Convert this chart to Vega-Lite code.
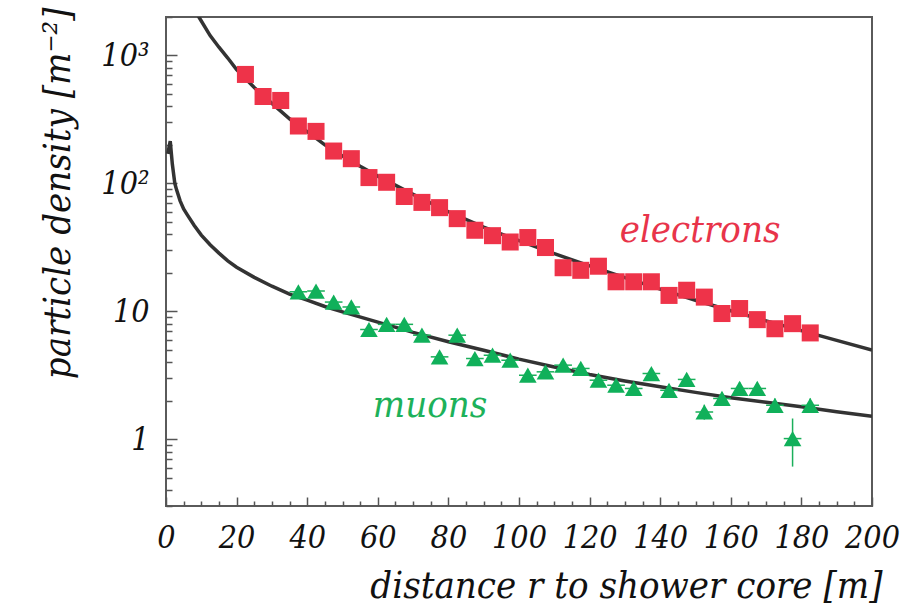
{
  "$schema": "https://vega.github.io/schema/vega-lite/v6.json",
  "width": 706,
  "height": 489,
  "autosize": "none",
  "padding": {"left": 166, "top": 17, "right": 28, "bottom": 104},
  "background": "white",
  "config": {"view": {"stroke": "#5a5a5a", "strokeWidth": 2}, "font": "DejaVu Serif Condensed, DejaVu Serif"},
  "resolve": {"axis": {"x": "independent", "y": "independent"}},
  "datasets": {
    "fits": [
      {"series": "electrons", "r": 9, "d": 2065},
      {"series": "electrons", "r": 10, "d": 1862},
      {"series": "electrons", "r": 12.5, "d": 1432},
      {"series": "electrons", "r": 15, "d": 1161},
      {"series": "electrons", "r": 17.5, "d": 955},
      {"series": "electrons", "r": 20, "d": 776},
      {"series": "electrons", "r": 25, "d": 562},
      {"series": "electrons", "r": 30, "d": 422},
      {"series": "electrons", "r": 35, "d": 320},
      {"series": "electrons", "r": 40, "d": 254},
      {"series": "electrons", "r": 45, "d": 200},
      {"series": "electrons", "r": 50, "d": 164},
      {"series": "electrons", "r": 55, "d": 136},
      {"series": "electrons", "r": 60, "d": 114},
      {"series": "electrons", "r": 70, "d": 82},
      {"series": "electrons", "r": 80, "d": 60},
      {"series": "electrons", "r": 90, "d": 45.5},
      {"series": "electrons", "r": 100, "d": 35.6},
      {"series": "electrons", "r": 110, "d": 28.2},
      {"series": "electrons", "r": 120, "d": 22.6},
      {"series": "electrons", "r": 130, "d": 18.3},
      {"series": "electrons", "r": 140, "d": 14.9},
      {"series": "electrons", "r": 150, "d": 12.2},
      {"series": "electrons", "r": 160, "d": 10.1},
      {"series": "electrons", "r": 170, "d": 8.41},
      {"series": "electrons", "r": 180, "d": 7.05},
      {"series": "electrons", "r": 190, "d": 5.92},
      {"series": "electrons", "r": 200, "d": 4.98},
      {"series": "muons", "r": 0.5, "d": 170},
      {"series": "muons", "r": 1.2, "d": 214},
      {"series": "muons", "r": 1.8, "d": 141},
      {"series": "muons", "r": 2.5, "d": 100},
      {"series": "muons", "r": 3, "d": 89},
      {"series": "muons", "r": 4, "d": 73},
      {"series": "muons", "r": 5, "d": 63},
      {"series": "muons", "r": 6, "d": 57},
      {"series": "muons", "r": 8, "d": 46.8},
      {"series": "muons", "r": 10, "d": 39.4},
      {"series": "muons", "r": 12.5, "d": 33.1},
      {"series": "muons", "r": 15, "d": 28.5},
      {"series": "muons", "r": 17.5, "d": 24.8},
      {"series": "muons", "r": 20, "d": 22.1},
      {"series": "muons", "r": 25, "d": 18.4},
      {"series": "muons", "r": 30, "d": 15.7},
      {"series": "muons", "r": 35, "d": 13.6},
      {"series": "muons", "r": 40, "d": 12.2},
      {"series": "muons", "r": 45, "d": 10.9},
      {"series": "muons", "r": 50, "d": 9.9},
      {"series": "muons", "r": 60, "d": 8.22},
      {"series": "muons", "r": 70, "d": 6.84},
      {"series": "muons", "r": 80, "d": 5.78},
      {"series": "muons", "r": 90, "d": 4.95},
      {"series": "muons", "r": 100, "d": 4.22},
      {"series": "muons", "r": 110, "d": 3.67},
      {"series": "muons", "r": 120, "d": 3.2},
      {"series": "muons", "r": 130, "d": 2.85},
      {"series": "muons", "r": 140, "d": 2.57},
      {"series": "muons", "r": 150, "d": 2.32},
      {"series": "muons", "r": 160, "d": 2.11},
      {"series": "muons", "r": 170, "d": 1.94},
      {"series": "muons", "r": 180, "d": 1.79},
      {"series": "muons", "r": 190, "d": 1.64},
      {"series": "muons", "r": 200, "d": 1.51}
    ],
    "electrons": [
      {"r": 22.5, "d": 711}, {"r": 27.5, "d": 478}, {"r": 32.5, "d": 445},
      {"r": 37.5, "d": 281}, {"r": 42.5, "d": 255}, {"r": 47.5, "d": 179},
      {"r": 52.5, "d": 156}, {"r": 57.5, "d": 111}, {"r": 62.5, "d": 102},
      {"r": 67.5, "d": 79}, {"r": 72.5, "d": 71}, {"r": 77.5, "d": 64.6},
      {"r": 82.5, "d": 53}, {"r": 87.5, "d": 43}, {"r": 92.5, "d": 39},
      {"r": 97.5, "d": 34.8}, {"r": 102.5, "d": 37.7}, {"r": 107.5, "d": 31.5},
      {"r": 112.5, "d": 21.9}, {"r": 117.5, "d": 20.9}, {"r": 122.5, "d": 22.5},
      {"r": 127.5, "d": 17}, {"r": 132.5, "d": 17}, {"r": 137.5, "d": 17},
      {"r": 142.5, "d": 13.3}, {"r": 147.5, "d": 14.6}, {"r": 152.5, "d": 12.9},
      {"r": 157.5, "d": 9.6}, {"r": 162.5, "d": 10.5}, {"r": 167.5, "d": 8.6},
      {"r": 172.5, "d": 7.3}, {"r": 177.5, "d": 8.0}, {"r": 182.5, "d": 6.77}
    ],
    "muons": [
      {"r": 37.5, "rlo": 35, "rhi": 40, "d": 14.2, "dlo": 13.3, "dhi": 15.1},
      {"r": 42.5, "rlo": 40, "rhi": 45, "d": 14.4, "dlo": 13.5, "dhi": 15.3},
      {"r": 47.5, "rlo": 45, "rhi": 50, "d": 11.8, "dlo": 11.0, "dhi": 12.6},
      {"r": 52.5, "rlo": 50, "rhi": 55, "d": 10.8, "dlo": 10.0, "dhi": 11.6},
      {"r": 57.5, "rlo": 55, "rhi": 60, "d": 7.2, "dlo": 6.6, "dhi": 7.8},
      {"r": 62.5, "rlo": 60, "rhi": 65, "d": 7.9, "dlo": 7.3, "dhi": 8.5},
      {"r": 67.5, "rlo": 65, "rhi": 70, "d": 7.9, "dlo": 7.3, "dhi": 8.5},
      {"r": 72.5, "rlo": 70, "rhi": 75, "d": 6.5, "dlo": 6.0, "dhi": 7.0},
      {"r": 77.5, "rlo": 75, "rhi": 80, "d": 4.4, "dlo": 4.0, "dhi": 4.8},
      {"r": 82.5, "rlo": 80, "rhi": 85, "d": 6.5, "dlo": 6.0, "dhi": 7.0},
      {"r": 87.5, "rlo": 85, "rhi": 90, "d": 4.27, "dlo": 3.9, "dhi": 4.65},
      {"r": 92.5, "rlo": 90, "rhi": 95, "d": 4.53, "dlo": 4.15, "dhi": 4.9},
      {"r": 97.5, "rlo": 95, "rhi": 100, "d": 4.14, "dlo": 3.8, "dhi": 4.5},
      {"r": 102.5, "rlo": 100, "rhi": 105, "d": 3.16, "dlo": 2.85, "dhi": 3.5},
      {"r": 107.5, "rlo": 105, "rhi": 110, "d": 3.36, "dlo": 3.05, "dhi": 3.7},
      {"r": 112.5, "rlo": 110, "rhi": 115, "d": 3.79, "dlo": 3.45, "dhi": 4.15},
      {"r": 117.5, "rlo": 115, "rhi": 120, "d": 3.57, "dlo": 3.25, "dhi": 3.9},
      {"r": 122.5, "rlo": 120, "rhi": 125, "d": 2.89, "dlo": 2.6, "dhi": 3.2},
      {"r": 127.5, "rlo": 125, "rhi": 130, "d": 2.64, "dlo": 2.35, "dhi": 2.95},
      {"r": 132.5, "rlo": 130, "rhi": 135, "d": 2.49, "dlo": 2.2, "dhi": 2.8},
      {"r": 137.5, "rlo": 135, "rhi": 140, "d": 3.26, "dlo": 2.95, "dhi": 3.6},
      {"r": 142.5, "rlo": 140, "rhi": 145, "d": 2.41, "dlo": 2.15, "dhi": 2.7},
      {"r": 147.5, "rlo": 145, "rhi": 150, "d": 2.93, "dlo": 2.65, "dhi": 3.25},
      {"r": 152.5, "rlo": 150, "rhi": 155, "d": 1.63, "dlo": 1.42, "dhi": 1.86},
      {"r": 157.5, "rlo": 155, "rhi": 160, "d": 2.08, "dlo": 1.85, "dhi": 2.33},
      {"r": 162.5, "rlo": 160, "rhi": 165, "d": 2.49, "dlo": 2.22, "dhi": 2.78},
      {"r": 167.5, "rlo": 165, "rhi": 170, "d": 2.49, "dlo": 2.22, "dhi": 2.78},
      {"r": 172.5, "rlo": 170, "rhi": 175, "d": 1.84, "dlo": 1.62, "dhi": 2.08},
      {"r": 177.5, "rlo": 175, "rhi": 180, "d": 1.01, "dlo": 0.61, "dhi": 1.45},
      {"r": 182.5, "rlo": 180, "rhi": 185, "d": 1.84, "dlo": 1.62, "dhi": 2.08}
    ]
  },
  "layer": [
    {
      "data": {"name": "fits"},
      "mark": {"type": "line", "clip": true, "color": "#333333", "strokeWidth": 3.5},
      "encoding": {
        "x": {
          "field": "r", "type": "quantitative",
          "scale": {"domain": [0, 200], "nice": false, "zero": false},
          "axis": {
            "orient": "bottom",
            "title": "distance r to shower core  [m]",
            "values": [0,20,40,60,80,100,120,140,160,180,200],
            "format": "d",
            "offset": -9, "tickSize": 9,
            "tickColor": "#555555", "tickWidth": 1.5,
            "domain": false, "grid": false,
            "labelFont": "DejaVu Serif Condensed, DejaVu Serif", "labelFontStyle": "italic", "labelFontSize": 32,
            "labelColor": "#111111", "labelPadding": 16, "labelFlush": false, "labelOverlap": false,
            "titleFont": "DejaVu Serif Condensed, DejaVu Serif", "titleFontStyle": "italic", "titleFontSize": 38,
            "titleFontWeight": "normal", "titleColor": "#111111",
            "titleAnchor": "end", "titleAlign": "right", "titleX": 716, "titleY": 100, "titleBaseline": "alphabetic"
          }
        },
        "y": {
          "field": "d", "type": "quantitative",
          "scale": {"type": "log", "domain": [0.3, 2000], "nice": false},
          "axis": {
            "orient": "left",
            "title": "particle density  [m⁻²]",
            "values": [1, 10, 100, 1000],
            "labelExpr": "datum.value === 1000 ? '10³' : datum.value === 100 ? '10²' : datum.value === 10 ? '10' : '1'",
            "offset": -11, "tickSize": 11,
            "tickColor": "#555555", "tickWidth": 1.5,
            "domain": false, "grid": false,
            "labelFont": "DejaVu Serif Condensed, DejaVu Serif", "labelFontStyle": "italic", "labelFontSize": 32,
            "labelColor": "#111111", "labelPadding": 17, "labelFlush": false, "labelOverlap": false,
            "titleFont": "DejaVu Serif Condensed, DejaVu Serif", "titleFontStyle": "italic", "titleFontSize": 38,
            "titleFontWeight": "normal", "titleColor": "#111111",
            "titleAnchor": "end", "titleAlign": "right", "titleAngle": 270, "titleX": -100, "titleY": -10, "titleBaseline": "bottom"
          }
        },
        "detail": {"field": "series"}
      }
    },
    {
      "data": {"name": "electrons"},
      "mark": {"type": "point", "shape": "square", "filled": true, "size": 290, "color": "#ee3349", "opacity": 1},
      "encoding": {
        "x": {
          "field": "r", "type": "quantitative",
          "axis": {
            "orient": "bottom", "title": null, "labels": false, "domain": false, "grid": false,
            "values": [5,10,15,25,30,35,45,50,55,65,70,75,85,90,95,105,110,115,125,130,135,145,150,155,165,170,175,185,190,195],
            "offset": -5, "tickSize": 5, "tickColor": "#555555", "tickWidth": 1.5
          }
        },
        "y": {
          "field": "d", "type": "quantitative",
          "axis": {
            "orient": "left", "title": null, "labels": false, "domain": false, "grid": false,
            "values": [0.3,0.4,0.5,0.6,0.7,0.8,0.9,2,3,4,5,6,7,8,9,20,30,40,50,60,70,80,90,200,300,400,500,600,700,800,900,2000],
            "offset": -6, "tickSize": 6, "tickColor": "#555555", "tickWidth": 1.5
          }
        }
      }
    },
    {
      "data": {"name": "muons"},
      "mark": {"type": "rule", "color": "#1aaf5a", "strokeWidth": 1.5},
      "encoding": {
        "x": {"field": "rlo", "type": "quantitative", "axis": null},
        "x2": {"field": "rhi"},
        "y": {"field": "d", "type": "quantitative", "axis": null}
      }
    },
    {
      "data": {"name": "muons"},
      "mark": {"type": "rule", "color": "#1aaf5a", "strokeWidth": 1.5},
      "encoding": {
        "x": {"field": "r", "type": "quantitative", "axis": null},
        "y": {"field": "dlo", "type": "quantitative", "axis": null},
        "y2": {"field": "dhi"}
      }
    },
    {
      "data": {"name": "muons"},
      "mark": {"type": "point", "shape": "triangle-up", "filled": true, "size": 310, "color": "#10b05a", "opacity": 1},
      "encoding": {
        "x": {"field": "r", "type": "quantitative", "axis": null},
        "y": {"field": "d", "type": "quantitative", "axis": null}
      }
    },
    {
      "data": {"values": [{}]},
      "mark": {"type": "text", "text": "electrons", "font": "DejaVu Serif Condensed, DejaVu Serif", "fontStyle": "italic", "fontSize": 38, "color": "#e8344a", "align": "center", "baseline": "alphabetic"},
      "encoding": {
        "x": {"datum": 151.3, "type": "quantitative", "axis": null},
        "y": {"datum": 34.6, "type": "quantitative", "axis": null}
      }
    },
    {
      "data": {"values": [{}]},
      "mark": {"type": "text", "text": "muons", "font": "DejaVu Serif Condensed, DejaVu Serif", "fontStyle": "italic", "fontSize": 38, "color": "#1db15a", "align": "center", "baseline": "alphabetic"},
      "encoding": {
        "x": {"datum": 74.8, "type": "quantitative", "axis": null},
        "y": {"datum": 1.49, "type": "quantitative", "axis": null}
      }
    }
  ]
}
